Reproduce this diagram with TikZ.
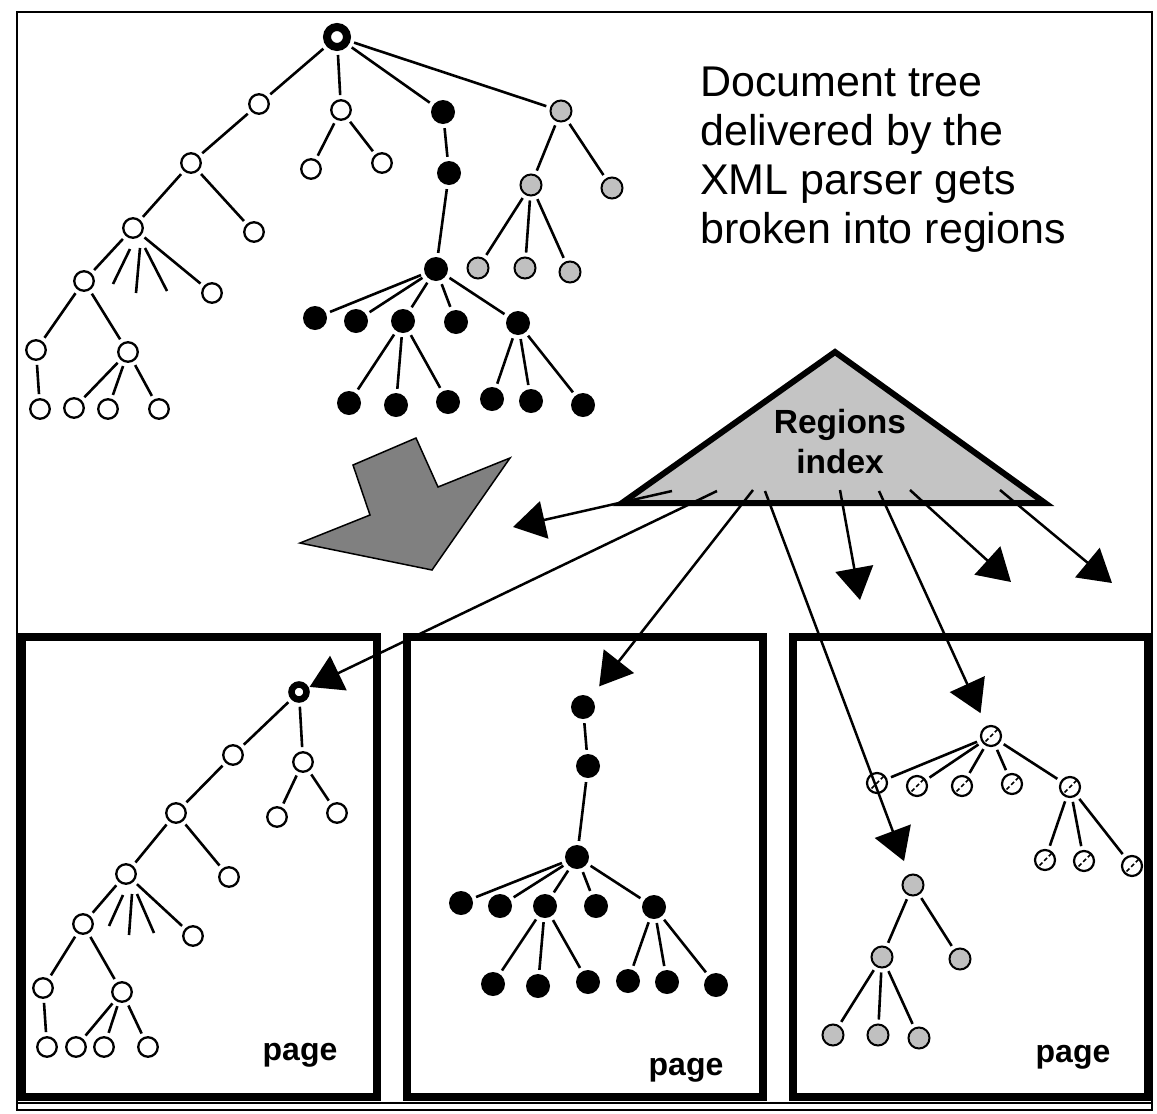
\documentclass[tikz,border=0pt]{standalone}
\usepackage{fontspec}
\setmainfont{Liberation Sans}
\usetikzlibrary{arrows.meta}
\definecolor{nodegray}{RGB}{192,192,192}
\definecolor{trigray}{RGB}{196,196,196}
\definecolor{shapegray}{RGB}{128,128,128}
\begin{document}
\begin{tikzpicture}[x=1pt,y=-1pt,
  wn/.style={circle,draw,line width=2.3pt,fill=white,minimum size=19.5pt,inner sep=0pt},
  bn/.style={circle,fill=black,minimum size=24pt,inner sep=0pt},
  gn/.style={circle,draw,line width=2pt,fill=nodegray,minimum size=21pt,inner sep=0pt},
  hn/.style={circle,draw,line width=2.2pt,fill=white,minimum size=20pt,inner sep=0pt,
    path picture={\draw[line width=1.6pt,dash pattern=on 4pt off 2.5pt]
      (path picture bounding box.south west) -- (path picture bounding box.north east);}},
  rootn/.style={circle,draw,line width=8pt,fill=white,minimum size=20pt,inner sep=0pt},
  rootsm/.style={circle,draw,line width=6.5pt,fill=white,minimum size=15pt,inner sep=0pt},
  ed/.style={line width=2.6pt,shorten <=4pt,shorten >=4pt},
  stub/.style={line width=2.6pt},
  arr/.style={line width=2.5pt,-{Triangle[length=32pt,width=38pt]}},
  pagebox/.style={line width=8pt},
  frame/.style={line width=2.2pt},
  lbl/.style={font=\fontsize{32}{40}\selectfont\bfseries,inner sep=0pt},
]
\useasboundingbox (0,0) rectangle (1157,1114);
\fill[white] (0,0) rectangle (1157,1114);

% outer frame
\draw[frame] (17,12) rectangle (1152,1110);
\coordinate (bl) at (17,1103);
\coordinate (br) at (1152,1103);
\draw[line width=1.2pt] (bl) -- (br);

% page boxes
\draw[pagebox] (22,637) rectangle (377,1097);
\draw[pagebox] (407,637) rectangle (763,1097);
\draw[pagebox] (793,637) rectangle (1148,1097);

% description text
\node[anchor=north west,align=left,inner sep=0pt,
  font=\fontsize{43}{49}\selectfont] (desc) at (700,67)
  {Document tree\\delivered by the\\XML parser gets\\broken into regions};

% ---------- top tree ----------
\node[rootn] (t0) at (337,37) {};
\node[wn] (ta1) at (259,104) {};
\node[wn] (ta2) at (341,110) {};
\node[bn] (ta3) at (443,112) {};
\node[gn] (ta4) at (561,111) {};
\node[wn] (ta2a) at (311,169) {};
\node[wn] (ta2b) at (382,163) {};
\node[bn] (tb1) at (449,173) {};
\node[bn] (tb2) at (436,269) {};
\node[bn] (tc1) at (315,318) {};
\node[bn] (tc2) at (356,321) {};
\node[bn] (tc3) at (403,321) {};
\node[bn] (tc4) at (456,322) {};
\node[bn] (tc5) at (518,323) {};
\node[bn] (td1) at (349,403) {};
\node[bn] (td2) at (396,405) {};
\node[bn] (td3) at (448,402) {};
\node[bn] (td4) at (492,399) {};
\node[bn] (td5) at (531,401) {};
\node[bn] (td6) at (583,405) {};
\node[gn] (tg1) at (531,185) {};
\node[gn] (tg2) at (612,188) {};
\node[gn] (tg3) at (478,268) {};
\node[gn] (tg4) at (525,268) {};
\node[gn] (tg5) at (570,272) {};
\node[wn] (tw1) at (191,163) {};
\node[wn] (tw2) at (133,228) {};
\node[wn] (tw3) at (254,232) {};
\node[wn] (tw4) at (84,281) {};
\node[wn] (tw5) at (212,293) {};
\node[wn] (tw6) at (36,350) {};
\node[wn] (tw7) at (128,352) {};
\node[wn] (tw8) at (40,409) {};
\node[wn] (tw9) at (74,408) {};
\node[wn] (tw10) at (108,409) {};
\node[wn] (tw11) at (159,409) {};
\coordinate (ts1a) at (130,249); \coordinate (ts1b) at (113,284);
\coordinate (ts2a) at (140,248); \coordinate (ts2b) at (136,293);
\coordinate (ts3a) at (145,248); \coordinate (ts3b) at (167,291);

\foreach \a/\b in {t0/ta1,t0/ta2,t0/ta3,t0/ta4,ta2/ta2a,ta2/ta2b,ta3/tb1,tb1/tb2,
  tb2/tc1,tb2/tc2,tb2/tc3,tb2/tc4,tb2/tc5,tc3/td1,tc3/td2,tc3/td3,tc5/td4,tc5/td5,tc5/td6,
  ta4/tg1,ta4/tg2,tg1/tg3,tg1/tg4,tg1/tg5,ta1/tw1,tw1/tw2,tw1/tw3,tw2/tw4,tw2/tw5,
  tw4/tw6,tw4/tw7,tw6/tw8,tw7/tw9,tw7/tw10,tw7/tw11}
  \draw[ed] (\a) -- (\b);
\draw[stub] (ts1a) -- (ts1b);
\draw[stub] (ts2a) -- (ts2b);
\draw[stub] (ts3a) -- (ts3b);

% ---------- left page ----------
\node[rootsm] (l0) at (299,692) {};
\node[wn] (la1) at (233,755) {};
\node[wn] (la2) at (303,762) {};
\node[wn] (la2a) at (277,817) {};
\node[wn] (la2b) at (337,813) {};
\node[wn] (lw1) at (176,813) {};
\node[wn] (lw2) at (126,874) {};
\node[wn] (lw3) at (229,877) {};
\node[wn] (lw4) at (83,924) {};
\node[wn] (lw5) at (193,936) {};
\node[wn] (lw6) at (43,988) {};
\node[wn] (lw7) at (122,992) {};
\node[wn] (lw8) at (47,1047) {};
\node[wn] (lw9) at (76,1047) {};
\node[wn] (lw10) at (104,1047) {};
\node[wn] (lw11) at (148,1047) {};
\coordinate (ls1a) at (123,895); \coordinate (ls1b) at (109,926);
\coordinate (ls2a) at (132,894); \coordinate (ls2b) at (129,935);
\coordinate (ls3a) at (137,894); \coordinate (ls3b) at (154,933);
\foreach \a/\b in {l0/la1,l0/la2,la2/la2a,la2/la2b,la1/lw1,lw1/lw2,lw1/lw3,
  lw2/lw4,lw2/lw5,lw4/lw6,lw4/lw7,lw6/lw8,lw7/lw9,lw7/lw10,lw7/lw11}
  \draw[ed] (\a) -- (\b);
\draw[stub] (ls1a) -- (ls1b);
\draw[stub] (ls2a) -- (ls2b);
\draw[stub] (ls3a) -- (ls3b);
\node[lbl,anchor=base] (p1) at (300,1060) {page};

% ---------- middle page ----------
\node[bn] (m0) at (583,707) {};
\node[bn] (m1) at (588,766) {};
\node[bn] (m2) at (577,857) {};
\node[bn] (mc1) at (461,903) {};
\node[bn] (mc2) at (500,906) {};
\node[bn] (mc3) at (545,906) {};
\node[bn] (mc4) at (596,906) {};
\node[bn] (mc5) at (654,907) {};
\node[bn] (md1) at (493,984) {};
\node[bn] (md2) at (538,986) {};
\node[bn] (md3) at (588,982) {};
\node[bn] (md4) at (628,981) {};
\node[bn] (md5) at (667,982) {};
\node[bn] (md6) at (716,985) {};
\foreach \a/\b in {m0/m1,m1/m2,m2/mc1,m2/mc2,m2/mc3,m2/mc4,m2/mc5,
  mc3/md1,mc3/md2,mc3/md3,mc5/md4,mc5/md5,mc5/md6}
  \draw[ed] (\a) -- (\b);
\node[lbl,anchor=base] (p2) at (686,1075) {page};

% ---------- right page ----------
\node[hn] (h0) at (991,736) {};
\node[hn] (h1) at (877,783) {};
\node[hn] (h2) at (917,786) {};
\node[hn] (h3) at (962,786) {};
\node[hn] (h4) at (1012,784) {};
\node[hn] (h5) at (1070,787) {};
\node[hn] (h6) at (1045,860) {};
\node[hn] (h7) at (1084,861) {};
\node[hn] (h8) at (1132,866) {};
\node[gn] (g0) at (913,885) {};
\node[gn] (g1) at (882,957) {};
\node[gn] (g2) at (960,959) {};
\node[gn] (g3) at (833,1035) {};
\node[gn] (g4) at (878,1035) {};
\node[gn] (g5) at (919,1038) {};
\foreach \a/\b in {h0/h1,h0/h2,h0/h3,h0/h4,h0/h5,h5/h6,h5/h7,h5/h8,
  g0/g1,g0/g2,g1/g3,g1/g4,g1/g5}
  \draw[ed] (\a) -- (\b);
\node[lbl,anchor=base] (p3) at (1073,1062) {page};

% ---------- block arrow ----------
\draw[line width=1.5pt,fill=shapegray,line join=miter]
  (353,465) -- (416,438) -- (438,487) -- (510,458) -- (432,570) -- (300,543) -- (370,515) -- cycle;

% ---------- regions index triangle ----------
\draw[line width=6pt,fill=trigray,line join=miter] (835,352) -- (1045,503) -- (622,503) -- cycle;
\node[lbl,align=center,anchor=north,font=\fontsize{33.5}{40}\selectfont\bfseries] (ri) at (840,409) {Regions\\index};

\coordinate (s1) at (672,491);
\coordinate (s2) at (717,491);
\coordinate (s3) at (753,490);
\coordinate (s4) at (765,491);
\coordinate (s5) at (840,490);
\coordinate (s6) at (879,491);
\coordinate (s7) at (910,490);
\coordinate (s8) at (1000,490);
\coordinate (e1) at (513,527);
\coordinate (e5) at (860,600);
\coordinate (e7) at (1011,582);
\coordinate (e8) at (1112,583);

\draw[arr] (s1) -- (e1);
\draw[arr,shorten >=1pt] (s2) -- (l0);
\draw[arr,shorten >=14pt] (s3) -- (m0);
\draw[arr,shorten >=14pt] (s4) -- (g0);
\draw[arr] (s5) -- (e5);
\draw[arr,shorten >=14pt] (s6) -- (h0);
\draw[arr] (s7) -- (e7);
\draw[arr] (s8) -- (e8);
\end{tikzpicture}
\end{document}
